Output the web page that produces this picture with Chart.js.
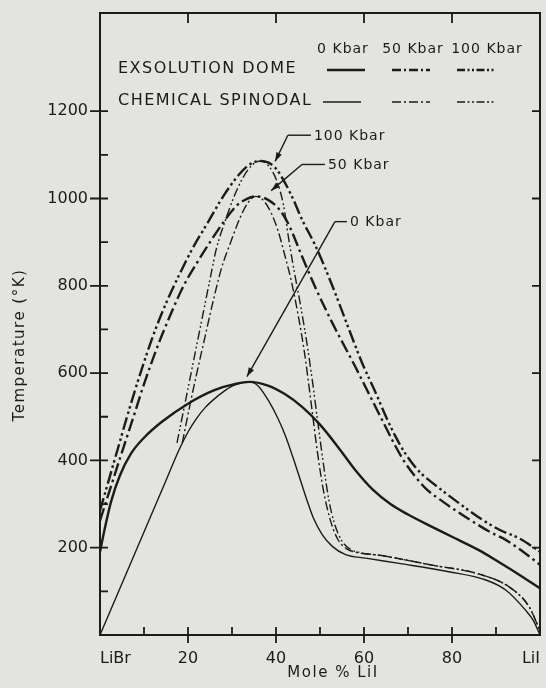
<!DOCTYPE html>
<html>
<head>
<meta charset="utf-8">
<script src="https://cdn.jsdelivr.net/npm/chart.js@4.4.1/dist/chart.umd.min.js"></script>
<style>
  html, body { margin: 0; padding: 0; background: #e3e3df; }
  canvas { display: block; }
</style>
</head>
<body>
<canvas id="myChart" width="546" height="688"></canvas>
<script>
// LiBr-LiI phase diagram: x = mole % LiI, y = temperature (K)
var xTicks = [0, 20, 40, 60, 80, 100];
var xTickLabels = ["LiBr", "20", "40", "60", "80", "LiI"];
var xMinorTicks = [10, 30, 50, 70, 90];
var yTicks = [200, 400, 600, 800, 1000, 1200];
var yMinorTicks = [100, 300, 500, 700, 900, 1100];
var pressures = ["0 Kbar", "50 Kbar", "100 Kbar"];

// 0 Kbar exsolution dome / chemical spinodal
var dome0X = [0, 1, 2.5, 4.5, 7, 10, 14, 20, 26, 31, 34, 38, 42, 46, 50, 54, 58, 62, 66, 70, 75, 80, 86, 91, 95, 100];
var dome0T = [190, 240, 305, 365, 415, 452, 488, 530, 561, 576, 580, 572, 552, 522, 482, 432, 378, 333, 300, 276, 250, 225, 195, 165, 140, 107];
var spin0X = [0, 5, 10, 15, 18, 20, 22, 24, 26, 28, 30, 32, 34, 36, 38.4, 40.5, 42.2, 44.8, 47, 48.5, 50.5, 52.8, 55.8, 60.4, 68, 79.3, 87.7, 92.2, 96.7, 98.5, 100];
var spin0T = [0, 118, 236, 354, 425, 465, 497, 522, 541, 557, 570, 577, 580, 570, 535, 495, 455, 378, 310, 268, 230, 203, 184, 176, 164, 145, 126, 103, 57, 33, 0];

// 50 Kbar
var dome50X = [0, 2, 4, 6, 8, 10, 12, 14, 16.5, 19, 22, 25, 28, 31, 33.4, 35.4, 38, 41, 43, 45.6, 49, 52.8, 58, 61, 64, 66.5, 69, 71.5, 74, 78, 83, 89, 92.2, 96, 100];
var dome50T = [262, 325, 388, 450, 512, 575, 632, 685, 745, 800, 852, 900, 945, 983, 999, 1005, 998, 972, 938, 875, 795, 715, 615, 555, 495, 445, 400, 365, 336, 305, 271, 234, 218, 192, 161];
var spin50X = [18.7, 20.3, 22, 23.8, 25.6, 27.6, 29.7, 31.8, 33.6, 35.4, 37.2, 39, 40.5, 42, 43.5, 45, 46.5, 48, 49.4, 50.8, 52.3, 54, 56, 58, 64, 75.5, 86, 93, 97.5, 100];
var spin50T = [440, 520, 600, 680, 760, 840, 900, 955, 990, 1005, 995, 965, 925, 870, 810, 735, 645, 530, 420, 330, 265, 220, 198, 190, 182, 160, 140, 110, 65, 10];

// 100 Kbar
var dome100X = [0, 2, 4, 6, 8, 10, 12.3, 15, 18, 21, 24.5, 28, 31.6, 34, 36.5, 39, 40.7, 43.7, 45.9, 49, 52.8, 56.6, 59.5, 62.7, 65, 67, 69, 71, 73, 76, 81.6, 86.9, 91, 95.2, 100];
var dome100T = [285, 355, 425, 495, 562, 625, 692, 760, 825, 885, 945, 1005, 1055, 1078, 1086, 1078, 1059, 1003, 952, 891, 800, 700, 625, 554, 500, 458, 422, 393, 370, 345, 302, 264, 240, 222, 191];
var spin100X = [17.5, 19.5, 21.5, 23.5, 25.5, 26.4, 28.5, 30.5, 32.5, 34.5, 36.5, 38.3, 40.2, 41.7, 43, 44.2, 45.5, 47, 48.3, 49.6, 50.8, 52, 53.3, 55, 57, 59, 64, 75.5, 86, 93, 97.5, 100];
var spin100T = [440, 540, 640, 740, 840, 883, 950, 1005, 1048, 1076, 1086, 1075, 1040, 985, 900, 830, 760, 670, 580, 480, 390, 310, 255, 215, 196, 189, 182, 160, 140, 110, 65, 10];

var ink = "#1b1b1b";
var dash50 = [13, 4, 2.5, 4];
var dash100 = [13, 3.5, 2.5, 3, 2.5, 3.5];
var font = "DejaVu Sans";

function curve(xs, ts, dash, width) {
    return {
        data: xs.map(function (x, i) { return { x: x, y: ts[i] }; }),
        borderColor: ink,
        borderWidth: width,
        borderDash: dash,
        pointRadius: 0,
        fill: false,
        cubicInterpolationMode: "monotone"
    };
}

function spaced(ctx, text, x, y, spacing) {
    ctx.letterSpacing = spacing + "px";
    ctx.fillText(text, x, y);
    ctx.letterSpacing = "0px";
}

function sample(ctx, cx, cy, dash, width) {
    ctx.setLineDash(dash);
    ctx.lineWidth = width;
    ctx.beginPath();
    ctx.moveTo(cx - 19, cy);
    ctx.lineTo(cx + 19, cy);
    ctx.stroke();
    ctx.setLineDash([]);
}

function arrow(ctx, ex, ey, tx, ty) {
    ctx.lineWidth = 1.4;
    ctx.beginPath();
    ctx.moveTo(ex, ey);
    ctx.lineTo(tx, ty);
    ctx.stroke();
    var ang = Math.atan2(ty - ey, tx - ex);
    ctx.beginPath();
    ctx.moveTo(tx, ty);
    ctx.lineTo(tx - 9 * Math.cos(ang) + 3 * Math.sin(ang), ty - 9 * Math.sin(ang) - 3 * Math.cos(ang));
    ctx.lineTo(tx - 9 * Math.cos(ang) - 3 * Math.sin(ang), ty - 9 * Math.sin(ang) + 3 * Math.cos(ang));
    ctx.closePath();
    ctx.fill();
}

var decorations = {
    id: "decorations",
    afterDraw: function (chart) {
        var ctx = chart.ctx, a = chart.chartArea;
        var x = chart.scales.x, y = chart.scales.y;
        ctx.save();
        ctx.strokeStyle = ink;
        ctx.fillStyle = ink;

        // frame
        ctx.lineWidth = 2;
        ctx.strokeRect(a.left, a.top, a.right - a.left, a.bottom - a.top);

        // tick marks
        ctx.lineWidth = 1.8;
        ctx.beginPath();
        yTicks.forEach(function (v) {
            var p = y.getPixelForValue(v);
            ctx.moveTo(a.left - 10, p); ctx.lineTo(a.left + 8, p);
            ctx.moveTo(a.right - 8, p); ctx.lineTo(a.right, p);
        });
        yMinorTicks.forEach(function (v) {
            var p = y.getPixelForValue(v);
            ctx.moveTo(a.left, p); ctx.lineTo(a.left + 8, p);
        });
        xTicks.slice(1, -1).forEach(function (v) {
            var p = x.getPixelForValue(v);
            ctx.moveTo(p, a.bottom + 8); ctx.lineTo(p, a.bottom - 8);
            ctx.moveTo(p, a.top); ctx.lineTo(p, a.top + 10);
        });
        xMinorTicks.forEach(function (v) {
            var p = x.getPixelForValue(v);
            ctx.moveTo(p, a.bottom); ctx.lineTo(p, a.bottom - 8);
        });
        ctx.stroke();

        // axis titles
        ctx.textBaseline = "middle";
        ctx.textAlign = "center";
        ctx.font = "15px '" + font + "'";
        spaced(ctx, "Mole % LiI", 333, 673, 1.5);
        ctx.save();
        ctx.translate(20, 345);
        ctx.rotate(-Math.PI / 2);
        spaced(ctx, "Temperature (\u00B0K)", 0, 0, 1.5);
        ctx.restore();

        // key
        ctx.font = "14px '" + font + "'";
        spaced(ctx, pressures[0], 343, 49, 1);
        spaced(ctx, pressures[1], 413, 49, 1);
        spaced(ctx, pressures[2], 487, 49, 1);
        ctx.textAlign = "left";
        ctx.font = "16px '" + font + "'";
        spaced(ctx, "EXSOLUTION DOME", 118, 69, 1.5);
        spaced(ctx, "CHEMICAL SPINODAL", 118, 101, 1.5);
        sample(ctx, 346, 70, [], 2.4);
        sample(ctx, 411, 70, [9, 3, 2, 3], 2.4);
        sample(ctx, 476, 70, [8, 2.5, 2, 2.5, 2, 2.5], 2.4);
        sample(ctx, 342, 102, [], 1.4);
        sample(ctx, 411, 102, [9, 3, 2, 3], 1.4);
        sample(ctx, 476, 102, [8, 2.5, 2, 2.5, 2, 2.5], 1.4);

        // pressure labels with arrows to the critical points
        var notes = [
            { text: pressures[2], tip: [39.8, 1085], elbow: [42.7, 1145], len: 23 },
            { text: pressures[1], tip: [38.9, 1018], elbow: [45.9, 1078], len: 23 },
            { text: pressures[0], tip: [33.4, 592], elbow: [53.4, 947], len: 12 }
        ];
        ctx.font = "14px '" + font + "'";
        notes.forEach(function (n) {
            var ex = x.getPixelForValue(n.elbow[0]), ey = y.getPixelForValue(n.elbow[1]);
            var tx = x.getPixelForValue(n.tip[0]), ty = y.getPixelForValue(n.tip[1]);
            ctx.lineWidth = 1.4;
            ctx.beginPath();
            ctx.moveTo(ex, ey);
            ctx.lineTo(ex + n.len, ey);
            ctx.stroke();
            arrow(ctx, ex, ey, tx, ty);
            spaced(ctx, n.text, ex + n.len + 3, ey + 1, 1);
        });
        ctx.restore();
    }
};

new Chart("myChart", {
    type: "line",
    data: {
        datasets: [
            curve(dome0X, dome0T, [], 2.4),
            curve(spin0X, spin0T, [], 1.4),
            curve(dome50X, dome50T, dash50, 2.4),
            curve(spin50X, spin50T, [9, 3, 2, 3], 1.4),
            curve(dome100X, dome100T, dash100, 2.4),
            curve(spin100X, spin100T, [9, 3, 1.8, 2.5, 1.8, 3], 1.4)
        ]
    },
    options: {
        responsive: false,
        animation: false,
        layout: { padding: { top: 13, right: 4.5, left: 0, bottom: 0 } },
        plugins: { legend: { display: false }, tooltip: { enabled: false } },
        scales: {
            x: {
                type: "linear",
                min: 0,
                max: 100,
                afterFit: function (s) { s.height = 53; },
                afterBuildTicks: function (s) { s.ticks = xTicks.map(function (v) { return { value: v }; }); },
                ticks: {
                    align: "inner",
                    color: ink,
                    padding: 6,
                    maxRotation: 0,
                    autoSkip: false,
                    font: { family: font, size: 16 },
                    callback: function (v) { return xTickLabels[xTicks.indexOf(v)]; }
                },
                grid: { display: false, tickLength: 8 },
                border: { display: false }
            },
            y: {
                type: "linear",
                min: 0,
                max: 1425,
                afterFit: function (s) { s.width = 100; },
                afterBuildTicks: function (s) { s.ticks = yTicks.map(function (v) { return { value: v }; }); },
                ticks: {
                    color: ink,
                    padding: 3,
                    font: { family: font, size: 16 },
                    callback: function (v) { return String(v); }
                },
                grid: { display: false, tickLength: 9 },
                border: { display: false }
            }
        }
    },
    plugins: [decorations]
});
</script>
</body>
</html>
